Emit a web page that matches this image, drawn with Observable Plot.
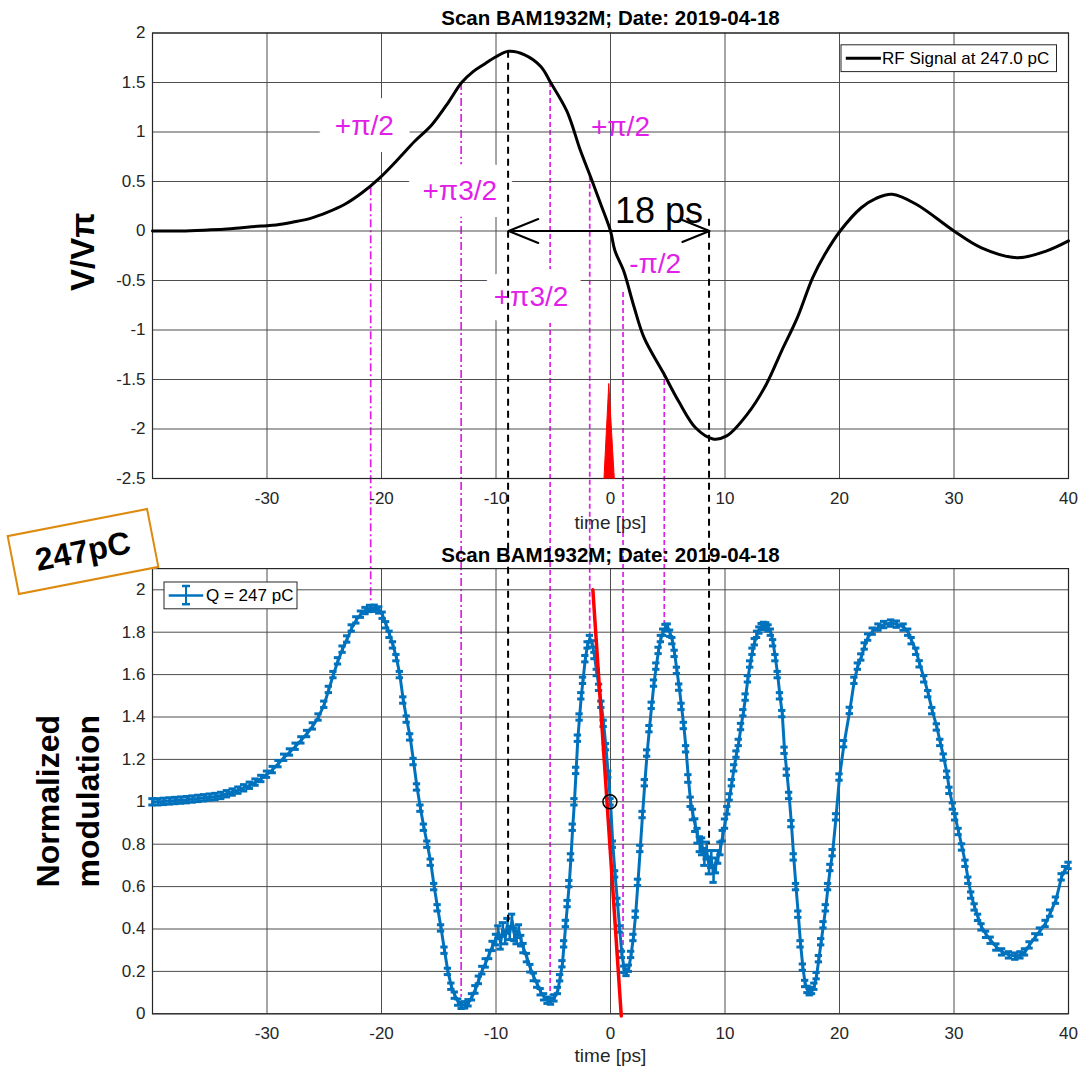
<!DOCTYPE html>
<html>
<head>
<meta charset="utf-8">
<script src="https://cdn.jsdelivr.net/npm/d3@7"></script>
<script src="https://cdn.jsdelivr.net/npm/@observablehq/plot@0.6"></script>
<style>
  body { margin: 0; background: #fff; }
  #page { position: relative; width: 1078px; height: 1074px; overflow: hidden; background: #fff;
          font-family: "Liberation Sans", Arial, Helvetica, sans-serif; }
  #page > svg { position: absolute; left: 0; }
  #charge { position: absolute; left: 11px; top: 521px; width: 144px; height: 61px; box-sizing: border-box;
            border: 2px solid #dd8a0e; background: #fff; transform: rotate(-11deg);
            display: flex; align-items: center; justify-content: center;
            font: bold 32px "Liberation Sans", Arial, sans-serif; color: #000; }
</style>
</head>
<body>
<div id="page"></div>
<script>
// ---- values -------------------------------------------------------------
const TITLE = "Scan BAM1932M; Date: 2019-04-18";
const xTicks = [-30, -20, -10, 0, 10, 20, 30, 40];
const rfTicks = [-2.5, -2, -1.5, -1, -0.5, 0, 0.5, 1, 1.5, 2];
const modTicks = [0, 0.2, 0.4, 0.6, 0.8, 1, 1.2, 1.4, 1.6, 1.8, 2];

// RF signal (V/Vπ) against time [ps]
const rfSignal = [
  [-40, 0.00], [-37.5, 0.00], [-35.2, 0.01], [-33.5, 0.02], [-32.2, 0.034], [-30.5, 0.05],
  [-29.2, 0.06], [-27.7, 0.09], [-26.2, 0.128], [-24.7, 0.19], [-23.2, 0.27], [-21.7, 0.386],
  [-20.15, 0.537], [-18.6, 0.72], [-17.1, 0.906], [-15.6, 1.074], [-14.1, 1.31], [-13.0, 1.50],
  [-12.0, 1.61], [-11.1, 1.68], [-10.0, 1.76], [-8.9, 1.815], [-7.5, 1.78], [-6.07, 1.66],
  [-5.23, 1.50], [-3.81, 1.21], [-2.61, 0.807], [-1.71, 0.538], [-0.85, 0.27], [0.0, 0.0],
  [0.39, -0.20], [1.14, -0.40], [2.04, -0.76], [2.94, -1.08], [4.6, -1.43], [5.95, -1.72],
  [7.45, -1.99], [8.95, -2.10], [10.15, -2.07], [11.95, -1.85], [13.6, -1.55], [14.95, -1.21],
  [16.3, -0.88], [17.66, -0.47], [18.7, -0.24], [20.06, 0.0], [21.9, 0.235], [23.2, 0.33],
  [24.6, 0.37], [26.7, 0.27], [30.0, 0.0], [32.4, -0.17], [35.5, -0.27], [38.1, -0.20], [40, -0.10]
];

// electron bunch marker at t = 0 (outline of the red pulse)
const bunchPulse = [[-0.57, -2.5], [-0.15, -1.54], [0.33, -2.5]];

// normalized modulation: [time, value, error half-height]
const modulation = [
  [-40, 1.000, 0.015], [-39.5, 1.000, 0.015], [-39, 1.002, 0.015], [-38.5, 1.004, 0.015],
  [-38, 1.006, 0.015], [-37.5, 1.008, 0.015], [-37, 1.010, 0.015], [-36.5, 1.013, 0.015],
  [-36, 1.016, 0.015], [-35.5, 1.019, 0.015], [-35, 1.022, 0.015], [-34.5, 1.025, 0.015],
  [-34, 1.030, 0.015], [-33.5, 1.038, 0.015], [-33, 1.046, 0.015], [-32.5, 1.055, 0.015],
  [-32, 1.066, 0.015], [-31.5, 1.078, 0.015], [-31, 1.093, 0.015], [-30.5, 1.110, 0.015],
  [-30, 1.130, 0.015], [-29.5, 1.152, 0.015], [-29, 1.180, 0.015], [-28.5, 1.210, 0.015],
  [-28, 1.235, 0.015], [-27.5, 1.262, 0.015], [-27, 1.292, 0.015], [-26.5, 1.322, 0.015],
  [-26, 1.358, 0.015], [-25.5, 1.400, 0.015], [-25, 1.460, 0.015], [-24.6, 1.530, 0.015],
  [-24.2, 1.600, 0.015], [-23.8, 1.665, 0.015], [-23.4, 1.720, 0.015], [-23, 1.768, 0.015],
  [-22.6, 1.820, 0.015], [-22.2, 1.858, 0.015], [-21.8, 1.885, 0.015], [-21.4, 1.902, 0.015],
  [-21, 1.912, 0.015], [-20.6, 1.913, 0.015], [-20.2, 1.905, 0.015], [-19.9, 1.880, 0.015],
  [-19.6, 1.835, 0.015], [-19.3, 1.790, 0.015], [-19, 1.740, 0.015], [-18.7, 1.680, 0.015],
  [-18.4, 1.600, 0.015], [-18.1, 1.480, 0.015], [-17.8, 1.390, 0.015], [-17.5, 1.306, 0.015],
  [-17.2, 1.190, 0.015], [-16.9, 1.070, 0.015], [-16.6, 0.970, 0.015], [-16.3, 0.880, 0.015],
  [-16, 0.800, 0.015], [-15.7, 0.715, 0.015], [-15.4, 0.600, 0.015], [-15.1, 0.500, 0.015],
  [-14.8, 0.405, 0.015], [-14.5, 0.300, 0.015], [-14.2, 0.200, 0.015], [-13.9, 0.130, 0.015],
  [-13.6, 0.088, 0.015], [-13.3, 0.055, 0.015], [-13, 0.040, 0.015], [-12.7, 0.042, 0.015],
  [-12.4, 0.052, 0.015], [-12.1, 0.080, 0.015], [-11.8, 0.115, 0.018], [-11.5, 0.160, 0.018],
  [-11.2, 0.206, 0.018], [-10.9, 0.240, 0.02], [-10.6, 0.280, 0.02], [-10.3, 0.320, 0.022],
  [-10, 0.350, 0.025], [-9.8, 0.385, 0.03], [-9.6, 0.335, 0.03], [-9.4, 0.400, 0.03],
  [-9.2, 0.360, 0.03], [-9, 0.415, 0.035], [-8.8, 0.380, 0.03], [-8.6, 0.440, 0.03],
  [-8.4, 0.375, 0.03], [-8.2, 0.360, 0.03], [-8, 0.390, 0.03], [-7.8, 0.345, 0.025],
  [-7.6, 0.310, 0.022], [-7.3, 0.265, 0.02], [-7, 0.215, 0.018], [-6.7, 0.174, 0.018],
  [-6.4, 0.140, 0.015], [-6.1, 0.104, 0.015], [-5.8, 0.080, 0.015], [-5.5, 0.064, 0.015],
  [-5.2, 0.060, 0.015], [-4.9, 0.075, 0.015], [-4.6, 0.110, 0.015], [-4.4, 0.170, 0.015],
  [-4.2, 0.236, 0.015], [-4.05, 0.330, 0.015], [-3.9, 0.426, 0.015], [-3.75, 0.520, 0.015],
  [-3.6, 0.614, 0.015], [-3.45, 0.740, 0.015], [-3.3, 0.880, 0.015], [-3.15, 1.000, 0.015],
  [-3, 1.148, 0.015], [-2.85, 1.300, 0.015], [-2.7, 1.400, 0.015], [-2.55, 1.500, 0.015],
  [-2.4, 1.573, 0.015], [-2.2, 1.675, 0.015], [-2, 1.740, 0.015], [-1.8, 1.770, 0.015],
  [-1.6, 1.745, 0.015], [-1.4, 1.690, 0.015], [-1.2, 1.610, 0.015], [-1, 1.540, 0.015],
  [-0.8, 1.460, 0.015], [-0.6, 1.370, 0.015], [-0.4, 1.260, 0.015], [-0.2, 1.130, 0.015],
  [0, 1.000, 0.015], [0.2, 0.800, 0.015], [0.4, 0.660, 0.015], [0.6, 0.530, 0.015],
  [0.8, 0.400, 0.015], [1, 0.280, 0.015], [1.2, 0.210, 0.015], [1.4, 0.195, 0.015],
  [1.6, 0.215, 0.015], [1.8, 0.280, 0.015], [2, 0.360, 0.015], [2.2, 0.470, 0.015],
  [2.4, 0.620, 0.015], [2.6, 0.780, 0.015], [2.8, 0.940, 0.015], [3, 1.090, 0.015],
  [3.2, 1.230, 0.015], [3.4, 1.345, 0.015], [3.6, 1.455, 0.015], [3.8, 1.560, 0.015],
  [4, 1.640, 0.015], [4.2, 1.714, 0.015], [4.4, 1.770, 0.015], [4.6, 1.800, 0.015],
  [4.8, 1.822, 0.015], [5, 1.824, 0.015], [5.2, 1.795, 0.015], [5.4, 1.760, 0.015],
  [5.6, 1.700, 0.015], [5.8, 1.620, 0.015], [6, 1.541, 0.015], [6.2, 1.450, 0.015],
  [6.4, 1.360, 0.015], [6.6, 1.250, 0.015], [6.8, 1.110, 0.018], [7, 1.000, 0.022],
  [7.2, 0.940, 0.025], [7.4, 0.890, 0.03], [7.6, 0.840, 0.035], [7.8, 0.800, 0.035],
  [8, 0.790, 0.04], [8.2, 0.740, 0.04], [8.4, 0.770, 0.04], [8.6, 0.700, 0.04],
  [8.8, 0.730, 0.04], [9, 0.660, 0.04], [9.2, 0.700, 0.035], [9.4, 0.740, 0.03],
  [9.6, 0.780, 0.03], [9.8, 0.840, 0.025], [10, 0.897, 0.022], [10.2, 0.960, 0.018],
  [10.4, 1.023, 0.015], [10.6, 1.090, 0.015], [10.8, 1.160, 0.015], [11, 1.225, 0.015],
  [11.2, 1.280, 0.015], [11.4, 1.355, 0.015], [11.6, 1.420, 0.015], [11.8, 1.494, 0.015],
  [12, 1.580, 0.015], [12.2, 1.650, 0.015], [12.4, 1.710, 0.015], [12.6, 1.755, 0.015],
  [12.8, 1.790, 0.015], [13, 1.810, 0.015], [13.2, 1.826, 0.015], [13.4, 1.832, 0.015],
  [13.6, 1.830, 0.015], [13.8, 1.820, 0.015], [14, 1.800, 0.015], [14.2, 1.750, 0.015],
  [14.4, 1.680, 0.015], [14.6, 1.600, 0.015], [14.8, 1.500, 0.015], [15, 1.416, 0.015],
  [15.2, 1.243, 0.015], [15.4, 1.140, 0.015], [15.6, 1.030, 0.015], [15.8, 0.897, 0.015],
  [16, 0.740, 0.015], [16.2, 0.600, 0.015], [16.4, 0.470, 0.015], [16.6, 0.330, 0.015],
  [16.8, 0.220, 0.015], [17, 0.143, 0.015], [17.2, 0.115, 0.015], [17.4, 0.104, 0.015],
  [17.6, 0.110, 0.015], [17.8, 0.130, 0.015], [18, 0.180, 0.015], [18.2, 0.260, 0.015],
  [18.4, 0.340, 0.015], [18.6, 0.420, 0.015], [18.8, 0.500, 0.015], [19, 0.600, 0.015],
  [19.2, 0.690, 0.015], [19.4, 0.760, 0.015], [19.7, 0.929, 0.015], [20, 1.117, 0.015],
  [20.4, 1.274, 0.015], [20.9, 1.431, 0.015], [21.3, 1.573, 0.015], [21.6, 1.640, 0.015],
  [21.9, 1.683, 0.015], [22.2, 1.735, 0.015], [22.5, 1.777, 0.015], [22.9, 1.805, 0.015],
  [23.4, 1.824, 0.015], [23.9, 1.836, 0.015], [24.5, 1.843, 0.015], [25, 1.838, 0.015],
  [25.6, 1.824, 0.015], [26, 1.800, 0.015], [26.3, 1.760, 0.015], [26.7, 1.710, 0.015],
  [27, 1.651, 0.015], [27.4, 1.580, 0.015], [27.75, 1.510, 0.015], [28.1, 1.430, 0.015],
  [28.5, 1.353, 0.015], [28.8, 1.280, 0.015], [29.1, 1.211, 0.015], [29.4, 1.130, 0.015],
  [29.6, 1.054, 0.015], [29.9, 0.980, 0.015], [30.1, 0.929, 0.015], [30.4, 0.860, 0.015],
  [30.7, 0.787, 0.015], [31, 0.710, 0.015], [31.25, 0.630, 0.015], [31.5, 0.560, 0.015],
  [31.8, 0.504, 0.015], [32.1, 0.455, 0.015], [32.4, 0.410, 0.015], [32.8, 0.375, 0.015],
  [33.2, 0.347, 0.015], [33.7, 0.315, 0.015], [34.2, 0.292, 0.015], [34.8, 0.278, 0.015],
  [35.35, 0.272, 0.015], [35.8, 0.278, 0.015], [36.2, 0.292, 0.015], [36.6, 0.325, 0.015],
  [37.1, 0.363, 0.015], [37.5, 0.390, 0.015], [38, 0.426, 0.015], [38.4, 0.475, 0.015],
  [38.9, 0.536, 0.015], [39.4, 0.646, 0.015], [39.7, 0.680, 0.015], [40, 0.700, 0.015]
];

// slope through the zero-crossing point of the modulation
const slopeLine = [[-1.54, 2.0], [0.94, -0.01]];
const zeroCrossing = [[-0.05, 1.0]];

// phase marks: [time, RF value, modulation value]
const phaseMarksDashDot = [[-20.9, 0.437, 1.94], [-13.0, 1.5, 0.078]];
const phaseMarksDashed = [[-5.23, 1.5, 0.086], [-1.77, 0.554, 1.776], [1.14, -0.62, 0.251], [4.74, -1.43, 1.816]];

// RF extrema used for the period measurement: [time, RF value, modulation value]
const periodMarks = [[-8.9, 1.815, 0.41], [8.65, 0.118, 0.80]];

// phase labels: [text, time, RF value]
const boxedLabels = [["+π/2", -21.5, 1.06], ["+π3/2", -13.16, 0.40], ["+π3/2", -6.94, -0.665]];
const plainLabels = [["+π/2", 0.87, 1.05], ["-π/2", 3.9, -0.33]];
const periodLabel = [["18 ps", 4.23, 0.20]];

// ---- rows ---------------------------------------------------------------
const rf = rfSignal.map(([t, v]) => ({t, v}));
const pulse = bunchPulse.map(([t, v]) => ({t, v}));
const mod = modulation.map(([t, v, e]) => ({t, v, e}));
const slope = slopeLine.map(([t, v]) => ({t, v}));
const crossing = zeroCrossing.map(([t, v]) => ({t, v}));
const lab = (rows) => rows.map(([text, t, v]) => ({text, t, v}));
const marks3 = (rows) => rows.map(([t, rf, mod]) => ({t, rf, mod}));

// ---- styling ------------------------------------------------------------
const FONT = "'Liberation Sans', Arial, Helvetica, sans-serif";
const INK = "#262626", GRID = "#4d4d4d", BLUE = "#0072bd", MAGENTA = "#e11fe8";
const W = 1078, H = 1074, TOP_H = 545, BOT_TOP = 545, BOT_H = H - BOT_TOP;
const fmt = (d) => String(d);
const CAP = 0.32; // error-bar cap half width [ps]
const baseStyle = {background: "transparent", overflow: "visible", fontFamily: FONT, fontSize: "17px", color: INK};
const xScale = {domain: [-40, 40], ticks: xTicks, tickFormat: fmt, tickSize: 0, tickPadding: 13, label: null};

// ---- RF panel -----------------------------------------------------------
const topPlot = Plot.plot({
  width: W, height: TOP_H,
  marginLeft: 152, marginRight: 10, marginTop: 32.5, marginBottom: 67,
  style: baseStyle,
  x: xScale,
  y: {domain: [-2.5, 2], ticks: rfTicks, tickFormat: fmt, tickSize: 0, tickPadding: 7, label: null},
  marks: [
    Plot.ruleX(xTicks, {stroke: GRID, strokeWidth: 1}),
    Plot.ruleY(rfTicks, {stroke: GRID, strokeWidth: 1}),
    Plot.text(lab(boxedLabels), {x: "t", y: "v", text: "text", fill: MAGENTA, stroke: "white",
      strokeWidth: 34, strokeLinejoin: "round", fontSize: 28, fontFamily: FONT}),
    Plot.text(lab(plainLabels), {x: "t", y: "v", text: "text", fill: MAGENTA, fontSize: 28, fontFamily: FONT}),
    Plot.frame({stroke: INK, strokeWidth: 1.2}),
    Plot.line(pulse, {x: "t", y: "v", fill: "red", stroke: "red", strokeWidth: 1}),
    Plot.line(rf, {x: "t", y: "v", stroke: "black", strokeWidth: 3, curve: "catmull-rom"}),
    Plot.arrow([0], {x1: (periodMarks[0][0] + periodMarks[1][0]) / 2, x2: periodMarks[0][0], y1: 0, y2: 0,
      stroke: "black", strokeWidth: 2, headLength: 24, headAngle: 44}),
    Plot.arrow([0], {x1: (periodMarks[0][0] + periodMarks[1][0]) / 2, x2: periodMarks[1][0], y1: 0, y2: 0,
      stroke: "black", strokeWidth: 2, headLength: 22, headAngle: 44}),
    Plot.text(lab(periodLabel), {x: "t", y: "v", text: "text", fill: "black", fontSize: 36, fontFamily: FONT}),
    Plot.text([TITLE], {text: (d) => d, frameAnchor: "top", lineAnchor: "bottom", dy: -8.5,
      fontWeight: "bold", fontSize: 20.5, fill: "black"}),
    Plot.text(["time [ps]"], {text: (d) => d, frameAnchor: "bottom", lineAnchor: "top", dy: 37, fontSize: 19, fill: INK}),
    Plot.text(["V/Vπ"], {text: (d) => d, frameAnchor: "left", rotate: -90, dx: -69, dy: -4, textAnchor: "middle",
      fontWeight: "bold", fontSize: 33, fill: "black"})
  ]
});

// ---- modulation panel ---------------------------------------------------
const botPlot = Plot.plot({
  width: W, height: BOT_H,
  marginLeft: 152, marginRight: 10, marginTop: 23.1, marginBottom: 60.7,
  style: baseStyle,
  x: xScale,
  y: {domain: [0, 2.1], ticks: modTicks, tickFormat: fmt, tickSize: 0, tickPadding: 7, label: null},
  marks: [
    Plot.ruleX(xTicks, {stroke: GRID, strokeWidth: 1}),
    Plot.ruleY(modTicks, {stroke: GRID, strokeWidth: 1}),
    Plot.frame({stroke: INK, strokeWidth: 1.2}),
    Plot.ruleX(mod, {x: "t", y1: (d) => d.v - d.e, y2: (d) => d.v + d.e, stroke: BLUE, strokeWidth: 2.6}),
    Plot.ruleY(mod, {y: (d) => d.v + d.e, x1: (d) => d.t - CAP, x2: (d) => d.t + CAP, stroke: BLUE, strokeWidth: 3}),
    Plot.ruleY(mod, {y: (d) => d.v - d.e, x1: (d) => d.t - CAP, x2: (d) => d.t + CAP, stroke: BLUE, strokeWidth: 3}),
    Plot.line(mod, {x: "t", y: "v", stroke: BLUE, strokeWidth: 3}),
    Plot.line(slope, {x: "t", y: "v", stroke: "red", strokeWidth: 3.5}),
    Plot.dot(crossing, {x: "t", y: "v", r: 7, stroke: "black", strokeWidth: 1.5, fill: "none"}),
    Plot.text([TITLE], {text: (d) => d, frameAnchor: "top", lineAnchor: "bottom", dy: -7,
      fontWeight: "bold", fontSize: 20.5, fill: "black"}),
    Plot.text(["time [ps]"], {text: (d) => d, frameAnchor: "bottom", lineAnchor: "top", dy: 35, fontSize: 19, fill: INK}),
    Plot.text(["Normalized\nmodulation"], {text: (d) => d, frameAnchor: "left", rotate: -90, dx: -86, dy: 10,
      textAnchor: "middle", lineHeight: 1.22, fontWeight: "bold", fontSize: 32, fill: "black"})
  ]
});

// ---- page assembly ------------------------------------------------------
const page = document.getElementById("page");
function scaleOf(plot, name, offset = 0) {
  const s = plot.scale(name);
  const f = typeof s.apply === "function" ? s.apply : d3.scaleLinear(s.domain, s.range);
  return (v) => f(v) + offset;
}
const xPos = scaleOf(topPlot, "x");
const yRf = scaleOf(topPlot, "y");
const yMod = scaleOf(botPlot, "y", BOT_TOP);

// phase marks run underneath both panels, joining the RF trace to the modulation trace
const under = d3.create("svg").attr("width", W).attr("height", H).style("top", "0px");
function phaseLines(rows, dash) {
  under.append("g").selectAll("line").data(marks3(rows)).join("line")
    .attr("x1", (d) => xPos(d.t)).attr("x2", (d) => xPos(d.t))
    .attr("y1", (d) => yRf(d.rf)).attr("y2", (d) => yMod(d.mod))
    .attr("stroke", MAGENTA).attr("stroke-width", 1.7).attr("stroke-dasharray", dash);
}
phaseLines(phaseMarksDashDot, "8,3,2,3");
phaseLines(phaseMarksDashed, "5,3");
page.append(under.node());

topPlot.style.top = "0px";
page.append(topPlot);
botPlot.style.top = BOT_TOP + "px";
page.append(botPlot);

// period guides and legends on top
const over = d3.create("svg").attr("width", W).attr("height", H).style("top", "0px");
over.append("g").selectAll("line").data(marks3(periodMarks)).join("line")
  .attr("x1", (d) => xPos(d.t)).attr("x2", (d) => xPos(d.t))
  .attr("y1", (d) => yRf(d.rf)).attr("y2", (d) => yMod(d.mod))
  .attr("stroke", "black").attr("stroke-width", 2).attr("stroke-dasharray", "7,5");

// legend of the RF panel
const lg1 = over.append("g").attr("font-family", FONT).attr("font-size", 17);
lg1.append("rect").attr("x", 841).attr("y", 44.8).attr("width", 215.5).attr("height", 26.8)
  .attr("fill", "white").attr("stroke", INK).attr("stroke-width", 1);
lg1.append("line").attr("x1", 845.8).attr("x2", 880.9).attr("y1", 58.3).attr("y2", 58.3)
  .attr("stroke", "black").attr("stroke-width", 3);
lg1.append("text").attr("x", 882).attr("y", 64.3).attr("fill", "black").text("RF Signal at 247.0 pC");

// legend of the modulation panel
const lg2 = over.append("g").attr("font-family", FONT).attr("font-size", 17);
lg2.append("rect").attr("x", 164).attr("y", 582).attr("width", 133).attr("height", 26.8)
  .attr("fill", "white").attr("stroke", INK).attr("stroke-width", 1);
lg2.append("line").attr("x1", 168.7).attr("x2", 203.2).attr("y1", 595.4).attr("y2", 595.4)
  .attr("stroke", BLUE).attr("stroke-width", 2.5);
lg2.append("line").attr("x1", 186).attr("x2", 186).attr("y1", 585.6).attr("y2", 604.6)
  .attr("stroke", BLUE).attr("stroke-width", 2);
lg2.append("line").attr("x1", 182).attr("x2", 190).attr("y1", 586).attr("y2", 586)
  .attr("stroke", BLUE).attr("stroke-width", 2.5);
lg2.append("line").attr("x1", 182).attr("x2", 190).attr("y1", 604.2).attr("y2", 604.2)
  .attr("stroke", BLUE).attr("stroke-width", 2.5);
lg2.append("text").attr("x", 206).attr("y", 601.4).attr("fill", "black").text("Q = 247 pC");
page.append(over.node());

// bunch charge tag
const tag = document.createElement("div");
tag.id = "charge";
tag.textContent = "247pC";
page.append(tag);
</script>
</body>
</html>
